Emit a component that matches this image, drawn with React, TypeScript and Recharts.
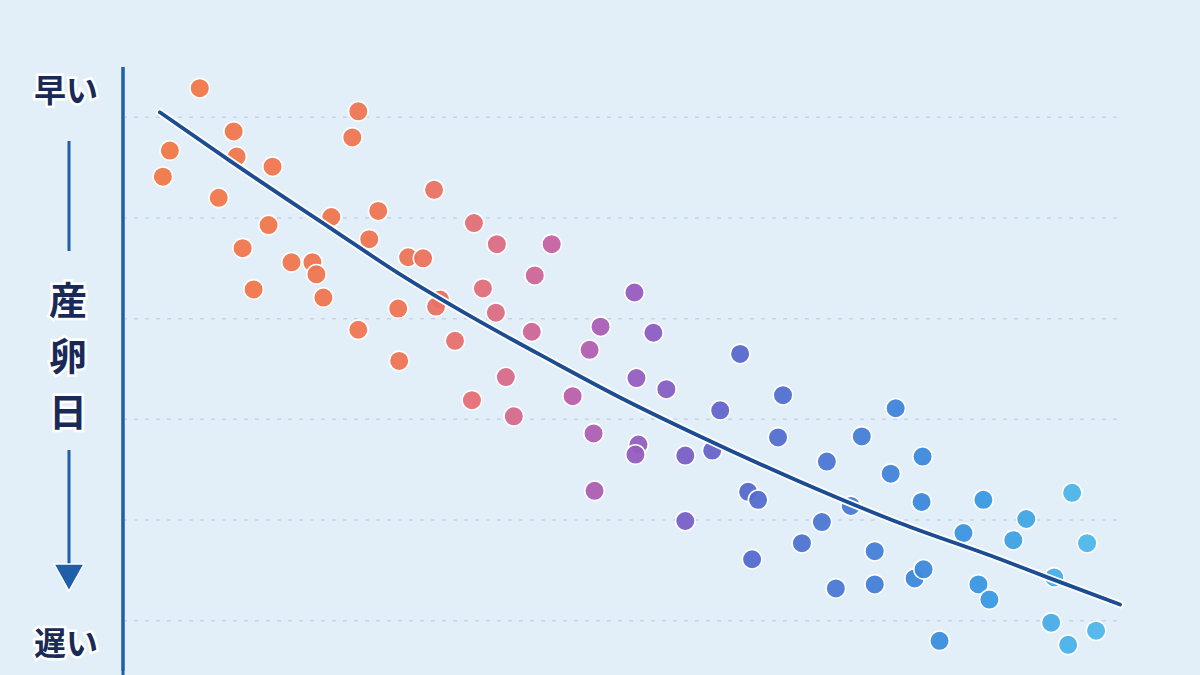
import { CartesianGrid, ReferenceLine, Scatter, ScatterChart, XAxis, YAxis } from "recharts";

// x: season position (0–100), y: laying day (smaller = earlier, drawn at top)
const eggX = [
  7.7, 4.7, 4.0, 11.1, 11.4, 9.6, 15.0, 23.6, 23.0, 14.6, 12.0, 13.1, 16.9, 19.0, 19.4, 20.1, 20.9, 25.6, 24.7, 31.2,
  28.6, 30.1, 23.6, 27.6, 27.7, 31.8, 31.4, 33.3, 35.2, 37.5, 43.0, 41.3, 36.1, 37.4, 41.0, 38.4, 35.0, 39.2, 51.3, 47.9,
  53.2, 46.8, 51.5, 54.5, 45.1, 47.2, 51.7, 51.4, 47.3, 56.4, 59.1, 56.4, 61.9, 59.9, 66.2, 65.7, 62.7, 63.7, 70.6, 74.1,
  73.0, 70.1, 68.1, 63.1, 75.4, 71.5, 75.4, 77.5, 80.2, 77.0, 80.1, 79.4, 80.3, 81.9, 84.3, 86.3, 90.6, 89.3, 85.8, 86.9,
  95.2, 96.7, 93.4, 93.1, 94.8, 97.6,
];
const eggY = [
  7.1, 13.3, 15.9, 11.4, 13.9, 18.0, 14.9, 9.4, 12.0, 20.7, 23.0, 27.1, 24.4, 24.4, 25.6, 27.9, 19.9, 19.3, 22.1, 17.2,
  23.9, 24.0, 31.1, 29.0, 34.2, 28.1, 28.8, 32.2, 20.5, 22.6, 22.6, 25.7, 27.0, 29.4, 31.3, 35.8, 38.1, 39.7, 27.4, 30.8,
  31.4, 33.1, 35.9, 37.0, 37.7, 41.4, 42.5, 43.5, 47.1, 43.6, 43.1, 50.1, 33.5, 39.1, 37.6, 41.8, 47.2, 48.0, 44.2, 41.7,
  48.6, 50.2, 52.3, 53.9, 53.1, 56.8, 56.4, 38.9, 43.7, 45.4, 48.2, 55.8, 54.9, 62.0, 51.3, 48.0, 49.9, 52.0, 56.4, 57.9,
  47.3, 52.3, 55.7, 60.2, 62.4, 61.0,
];

const trendX = [3.7, 10.7, 21.1, 27.8, 35.1, 42.8, 49.8, 57.9, 67.9, 77.9, 88.0, 93.0, 100];
const trendY = [9.5, 14.3, 21.2, 25.6, 29.9, 34.1, 37.8, 41.7, 46.2, 50.3, 53.9, 55.8, 58.4];

const yTicks = [10, 20, 30, 40, 50, 60];

// colour stops along x: orange -> pink -> purple -> blue -> sky
const colorStops: [number, number[]][] = [
  [0, [242, 120, 70]],
  [28, [238, 116, 84]],
  [36, [226, 110, 122]],
  [43, [198, 98, 162]],
  [50, [158, 92, 190]],
  [56, [124, 94, 198]],
  [62, [86, 104, 204]],
  [72, [74, 122, 212]],
  [80, [60, 136, 220]],
  [87, [58, 154, 226]],
  [96, [78, 182, 234]],
];

function colorAt(x: number) {
  for (let i = 1; i < colorStops.length; i++) {
    const [x1, c1] = colorStops[i];
    const [x0, c0] = colorStops[i - 1];
    if (x <= x1) {
      const t = (x - x0) / (x1 - x0);
      const c = c0.map((v, k) => Math.round(v + (c1[k] - v) * t));
      return `rgb(${c.join(",")})`;
    }
  }
  const last = colorStops[colorStops.length - 1][1];
  return `rgb(${last.join(",")})`;
}

const eggs = eggX.map((x, i) => ({ x, y: eggY[i] }));
const trend = trendX.map((x, i) => ({ x, y: trendY[i] }));

const NAVY = "#1a2a57";
const AXIS_BLUE = "#1f5ea8";
const FONT = "'Noto Sans CJK JP', 'Noto Sans', sans-serif";

const labelStyle = {
  fontFamily: FONT,
  fontWeight: 700,
  fill: NAVY,
  stroke: "#ffffff",
  strokeWidth: 5,
  paintOrder: "stroke" as const,
};

const EggDot = (props: any) => {
  const { cx, cy, payload } = props;
  if (cx == null || cy == null) return null;
  return <circle cx={cx} cy={cy} r={9.8} fill={colorAt(payload.x)} fillOpacity={0.95} stroke="#ffffff" strokeWidth={1.6} />;
};

export default function App() {
  return (
    <div
      style={{
        position: "fixed",
        left: 0,
        top: 0,
        width: 1200,
        height: 675,
        background: "#e3eff8",
        overflow: "hidden",
      }}
    >
      <ScatterChart width={1200} height={675} margin={{ top: 67, right: 80, bottom: 4, left: 123 }}>
        <CartesianGrid
          vertical={false}
          horizontalValues={yTicks}
          stroke="#c3d6e7"
          strokeDasharray="4 7"
          strokeWidth={1.5}
        />
        <XAxis type="number" dataKey="x" domain={[0, 100]} hide />
        <YAxis type="number" dataKey="y" domain={[5, 65]} ticks={yTicks} reversed hide />
        <ReferenceLine x={0} stroke={AXIS_BLUE} strokeWidth={3} />
        <Scatter data={eggs} isAnimationActive={false} shape={EggDot} />
        <Scatter
          data={trend}
          isAnimationActive={false}
          lineJointType="monotoneX"
          line={{ stroke: "#ffffff", strokeWidth: 7.5, strokeLinecap: "round" }}
          shape={() => null}
        />
        <Scatter
          data={trend}
          isAnimationActive={false}
          lineJointType="monotoneX"
          line={{ stroke: "#1c4d92", strokeWidth: 3.8, strokeLinecap: "round" }}
          shape={() => null}
        />
      </ScatterChart>

      <svg
        width={1200}
        height={675}
        style={{ position: "absolute", left: 0, top: 0, pointerEvents: "none" }}
      >
        <line x1={123} y1={67} x2={123} y2={675} stroke={AXIS_BLUE} strokeWidth={3} />
        <text x={66} y={102} textAnchor="middle" fontSize={32} {...labelStyle}>
          早い
        </text>
        <line x1={69} y1={141} x2={69} y2={251} stroke={AXIS_BLUE} strokeWidth={3} />
        <text x={68} y={314} textAnchor="middle" fontSize={38} {...labelStyle}>
          産
        </text>
        <text x={68} y={370} textAnchor="middle" fontSize={38} {...labelStyle}>
          卵
        </text>
        <text x={68} y={426} textAnchor="middle" fontSize={38} {...labelStyle}>
          日
        </text>
        <line x1={69} y1={450} x2={69} y2={568} stroke={AXIS_BLUE} strokeWidth={3} />
        <polygon points="54,564 84,564 69,591" fill={AXIS_BLUE} stroke="#ffffff" strokeWidth={1.5} />
        <text x={66} y={655} textAnchor="middle" fontSize={32} {...labelStyle}>
          遅い
        </text>
      </svg>
    </div>
  );
}
